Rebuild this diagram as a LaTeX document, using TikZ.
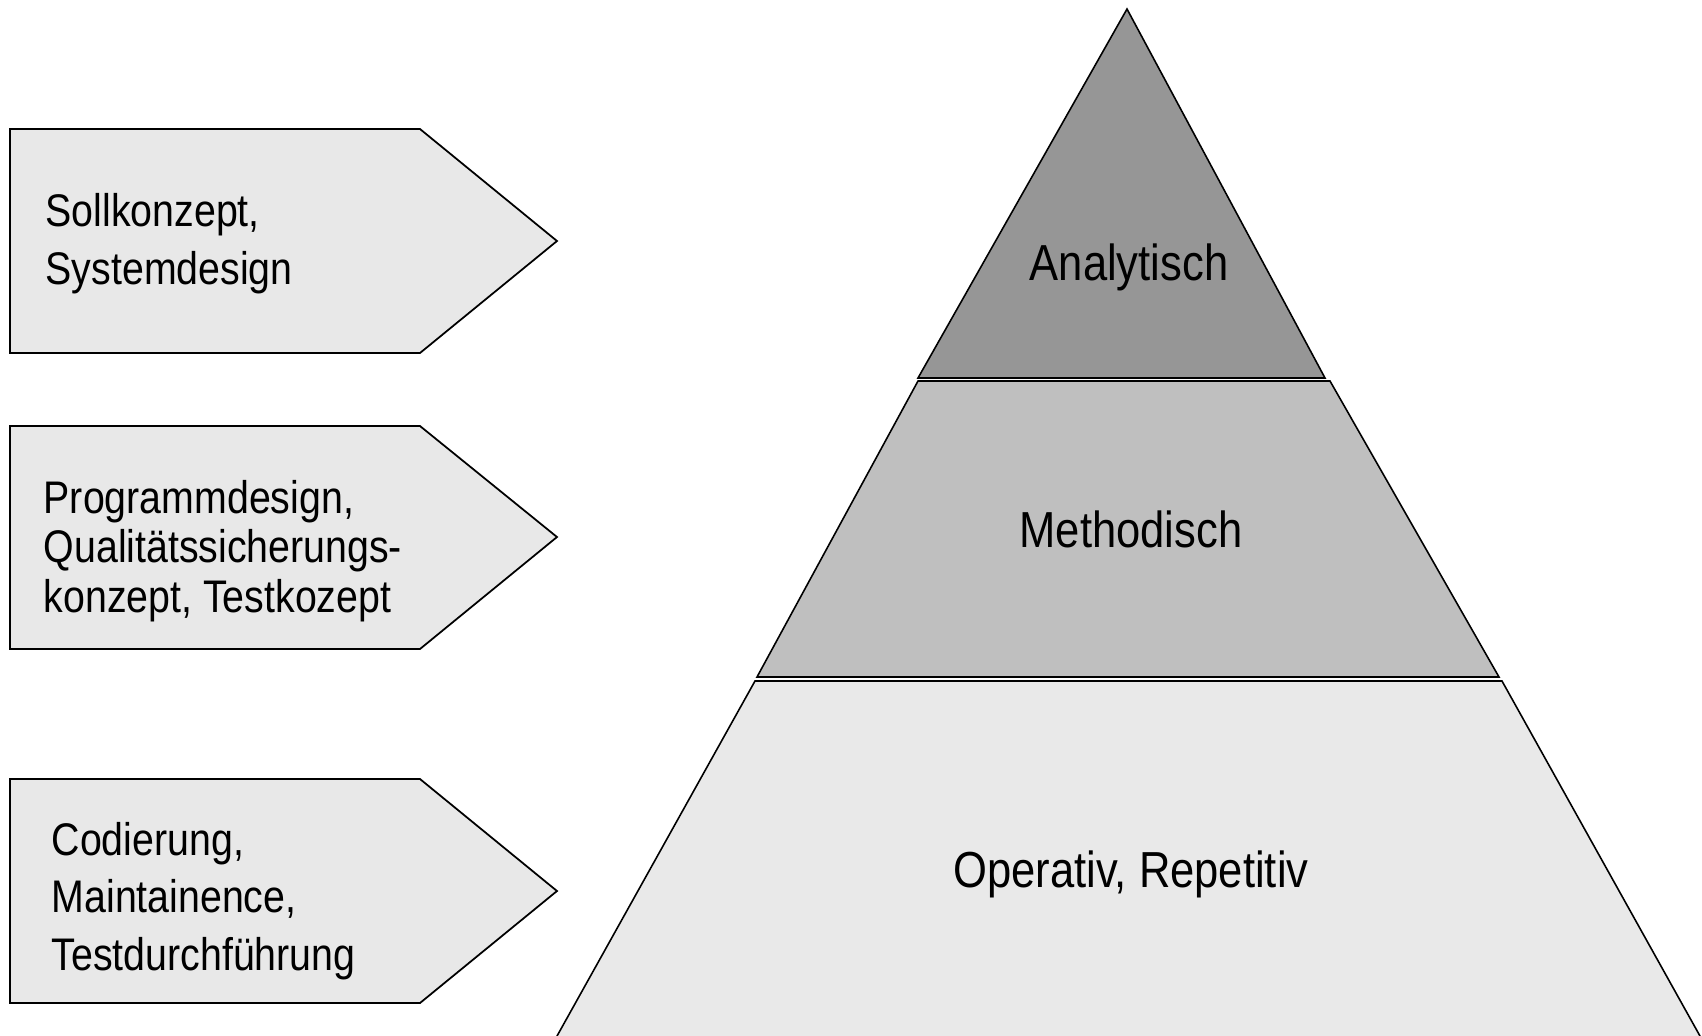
\documentclass[tikz,border=0pt]{standalone}
\usepackage{fontspec}
\setmainfont{Liberation Sans}[FakeStretch=0.86]
\usepackage{tikz}
\usetikzlibrary{positioning}

\definecolor{stufeoben}{gray}{0.59}
\definecolor{stufemitte}{gray}{0.75}
\definecolor{stufeunten}{gray}{0.915}
\definecolor{boxgrau}{gray}{0.91}

\begin{document}
\begin{tikzpicture}[
	x=0.01cm, y=-0.01cm,
	stufe/.style={draw=black, line width=0.45pt, line join=miter},
	pfeilbox/.style={draw=black, line width=0.5pt, fill=boxgrau},
	boxtext/.style={anchor=west, align=left, inner sep=0pt, font=\fontsize{13}{16.4}\selectfont},
	stufentext/.style={inner sep=0pt, font=\fontsize{14.4}{17}\selectfont}
	]
	\useasboundingbox (0,0) rectangle (1702,1035);
	
	% ===== PYRAMIDE =====
	\draw[stufe, fill=stufeoben] (1127,9) -- (1325,378) -- (918,378) -- cycle;
	\draw[stufe, fill=stufemitte] (918,381) -- (1330,381) -- (1499,677) -- (757,677) -- cycle;
	\begin{scope}
		\clip (0,0) rectangle (1702,1035);
		\draw[stufe, fill=stufeunten] (755,681) -- (1502,681) -- (1705,1045) -- (552,1045) -- cycle;
	\end{scope}
	
	\node[stufentext] (analytisch) at (1129,267) {Analytisch};
	\node[stufentext] (methodisch) at (1131,529) {Methodisch};
	\node[stufentext] (operativ)   at (1131,874) {Operativ, Repetitiv};
	
	% ===== PFEILBOXEN =====
	\draw[pfeilbox] (10,129) -- (420,129) -- (557,241) -- (420,353) -- (10,353) -- cycle;
	\draw[pfeilbox] (10,426) -- (420,426) -- (557,537) -- (420,649) -- (10,649) -- cycle;
	\draw[pfeilbox] (10,779) -- (420,779) -- (557,891) -- (420,1003) -- (10,1003) -- cycle;
	
	\node[boxtext] (soll) at (45,244) {Sollkonzept,\\Systemdesign};
	\node[boxtext, font=\fontsize{13}{14}\selectfont] (programm) at (43,551) {Programmdesign,\\Qualitätssicherungs-\\konzept, Testkozept};
	\node[boxtext] (codierung) at (51,901) {Codierung,\\Maintainence,\\Testdurchführung};
\end{tikzpicture}
\end{document}
